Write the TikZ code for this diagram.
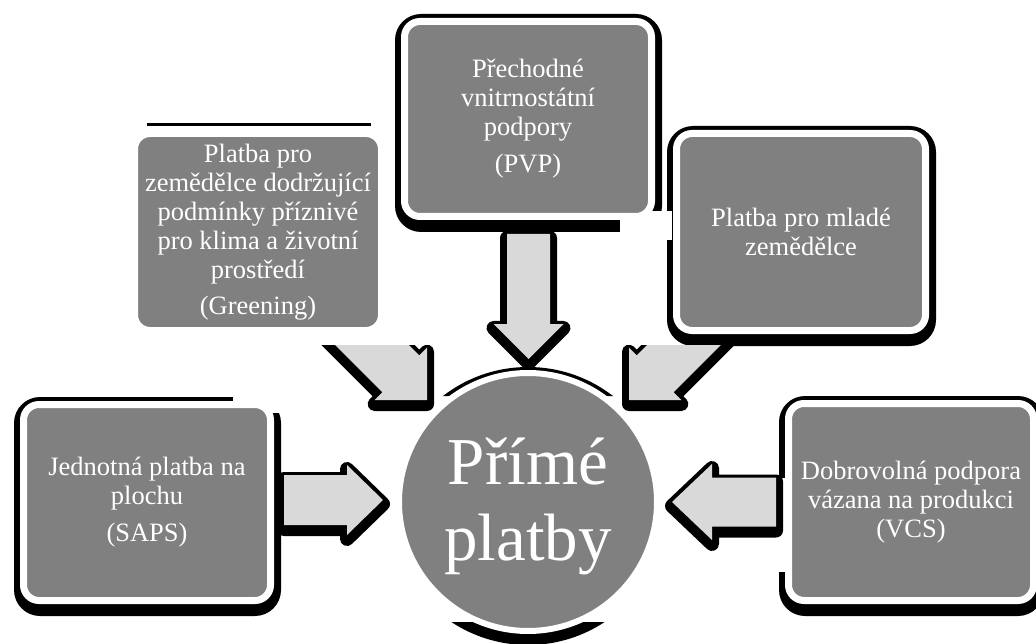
\documentclass[tikz,border=0pt]{standalone}
\usepackage{fontspec}
\usetikzlibrary{calc}
\newfontfamily\lib{Liberation Serif}
\definecolor{boxgray}{HTML}{808080}
\definecolor{arrgray}{HTML}{D9D9D9}
\pgfdeclarelayer{bg}
\pgfsetlayers{bg,main}
\tikzset{
  boxst/.style={rectangle, rounded corners=15.5pt, fill=boxgray, draw=white, line width=7pt,
    outer sep=3.5pt, inner sep=0pt, text=white, align=center,
    font=\lib\fontsize{26.5}{29}\selectfont},
  circst/.style={circle, fill=boxgray, draw=white, line width=6pt, outer sep=3pt, inner sep=0pt,
    minimum size=258pt, text=white, align=center, font=\lib\fontsize{67}{76}\selectfont},
  shadowst/.style={fill=black, rounded corners=26pt},
  cutst/.style={fill=white},
  arrshadow/.style={fill=black, draw=black, line width=14pt, line join=round, transform canvas={yshift=-4pt}},
  arrbody/.style={fill=arrgray}
}
% #1 tail, #2 tip, #3 shaft half width, #4 head half width, #5 neck coordinate
\newcommand{\arrpath}[5]{($(#1)!#3!90:(#2)$) -- ($(#5)!#3!90:(#2)$) -- ($(#5)!#4!90:(#2)$) -- (#2)
  -- ($(#5)!#4!-90:(#2)$) -- ($(#5)!#3!-90:(#2)$) -- ($(#1)!#3!-90:(#2)$) -- cycle}
% #1 tail, #2 tip, #3 shaft half, #4 head half, #5 head length
\newcommand{\blockarrow}[5]{%
  \coordinate (#1n) at ($(#2)!#5!(#1)$);
  \fill[arrshadow] \arrpath{#1}{#2}{#3}{#4}{#1n};
  \fill[arrbody] \arrpath{#1}{#2}{#3}{#4}{#1n};
}
\begin{document}
\begin{tikzpicture}[x=1pt,y=-1pt]
\useasboundingbox (0,0) rectangle (1036,644);
\clip (0,0) rectangle (1036,644);
% boxes
\node[boxst, minimum width=247pt, minimum height=196pt] (saps) at (147,502.5)
  {Jednotná platba na\\plochu\\[8pt](SAPS)};
\node[boxst, minimum width=247pt, minimum height=197pt] (green) at (258,232)
  {Platba pro\\zemědělce dodržující\\podmínky příznivé\\pro klima a životní\\prostředí\\[7pt](Greening)};
\node[boxst, minimum width=247pt, minimum height=195pt] (pvp) at (528,119)
  {Přechodné\\vnitrnostátní\\podpory\\[8pt](PVP)};
\node[boxst, minimum width=249pt, minimum height=197pt] (young) at (801,232)
  {Platba pro mladé\\zemědělce};
\node[boxst, minimum width=245pt, minimum height=197pt] (vcs) at (911,502)
  {Dobrovolná podpora\\vázana na produkci\\(VCS)};
\node[circst] (circ) at (528,502) {\rule{0pt}{56pt}Přímé\\platby};
% shadows
\begin{pgfonlayer}{bg}
  \fill[shadowst] ([shift={(-6,-4)}]saps.north west) rectangle ([shift={(7,12)}]saps.south east);
  \fill[shadowst] ([shift={(-6,-4)}]pvp.north west) rectangle ([shift={(7,12)}]pvp.south east);
  \fill[shadowst] ([shift={(-6,-4)}]young.north west) rectangle ([shift={(7,12)}]young.south east);
  \fill[shadowst] ([shift={(-6,-4)}]vcs.north west) rectangle ([shift={(7,12)}]vcs.south east);
  \draw[line width=3pt] ([shift={(16,-5)}]green.north west) coordinate (gl1)
    -- ([shift={(-14,-5)}]green.north east) coordinate (gl2);
  % cut-outs of the shadows
  \fill[cutst] (233,388) rectangle (292,413);
  \fill[cutst] (620,211) rectangle (672,240);
  \fill[cutst] (768,478) rectangle (786,572);
  \begin{scope}
    \clip (380,355) rectangle (680,396) (380,622) rectangle (680,650);
    \fill[black] ([yshift=-4pt]circ.center) circle (139pt);
  \end{scope}
\end{pgfonlayer}
% arrows
\coordinate (aLt) at (284,500);
\coordinate (aLp) at (383,500);
\blockarrow{aLt}{aLp}{25pt}{35pt}{36pt}
\coordinate (aRt) at (776,502);
\coordinate (aRp) at (672,502);
\blockarrow{aRt}{aRp}{24.5pt}{38pt}{40pt}
\coordinate (aTt) at (528.5,234);
\coordinate (aTp) at (528.5,359);
\blockarrow{aTt}{aTp}{21.5pt}{35pt}{35pt}
\begin{scope}
  \clip (300,345) rectangle (760,430);
  \coordinate (aGt) at (327,300);
  \coordinate (aGp) at (427,400);
  \blockarrow{aGt}{aGp}{26pt}{37pt}{37pt}
  \coordinate (aYt) at (729,300);
  \coordinate (aYp) at (629,400);
  \blockarrow{aYt}{aYp}{26pt}{37pt}{37pt}
\end{scope}
\end{tikzpicture}
\end{document}
